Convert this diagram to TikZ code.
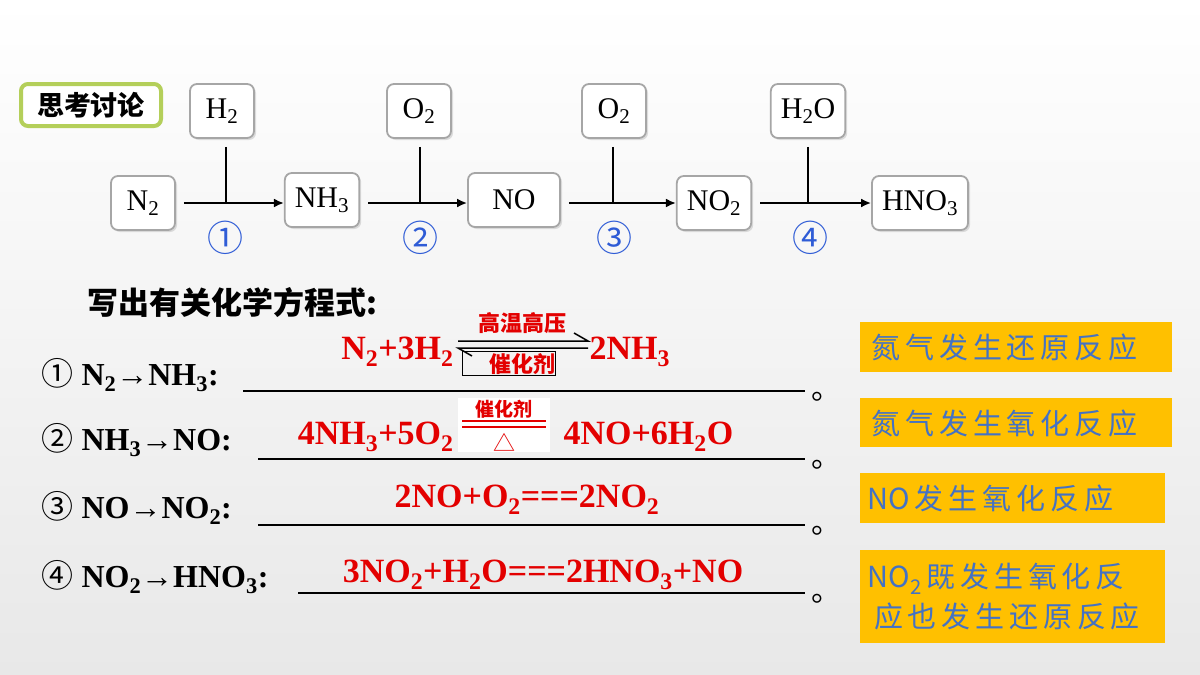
\documentclass[tikz,border=0pt]{standalone}
\usepackage{fontspec}
\setmainfont{Liberation Serif}
\newfontfamily\cjk{Noto Sans CJK SC}
\usetikzlibrary{arrows.meta,positioning,shadows}
\definecolor{boxgray}{HTML}{A6A6A6}
\definecolor{tagedge}{HTML}{B4CF5A}
\definecolor{eqred}{HTML}{E30000}
\definecolor{noteorange}{HTML}{FFC000}
\definecolor{noteblue}{HTML}{4472C4}
\definecolor{numblue}{HTML}{2F5CD6}
\newcommand{\chsub}[1]{\textsubscript{#1}}
\tikzset{
  chem/.style={draw=boxgray,line width=1.8pt,rounded corners=7pt,fill=white,
    minimum height=54pt,minimum width=64pt,inner xsep=10pt,font=\fontsize{30}{34}\selectfont,
    drop shadow={opacity=0.25,shadow xshift=2pt,shadow yshift=-2pt}},
  stepnum/.style={font=\fontsize{36}{38}\selectfont\cjk,text=numblue},
  rowlab/.style={anchor=west,font=\fontsize{32}{34}\selectfont\bfseries},
  eq/.style={font=\fontsize{34}{36}\selectfont\bfseries,text=eqred},
  cond/.style={font=\fontsize{22}{24}\selectfont\cjk\bfseries,text=eqred},
  notetext/.style={anchor=west,font=\fontsize{29}{40}\selectfont\cjk,text=noteblue},
  flow/.style={line width=2.4pt,-{Latex[length=10pt,width=9pt]}},
}
\begin{document}
\begin{tikzpicture}[x=1pt,y=-1pt]
\shade[top color=white,bottom color=gray!18] (0,0) rectangle (1200,675);
\useasboundingbox (0,0) rectangle (1200,675);
% tag
\node[draw=tagedge,line width=4pt,rounded corners=7pt,fill=white,minimum width=140pt,minimum height=42pt,
  font=\fontsize{27}{29}\selectfont\cjk\bfseries] (tag) at (91,105) {思考讨论};
% flow chart
\node[chem] (n2) at (143,203) {N\chsub{2}};
\node[chem] (nh3) at (322,200) {NH\chsub{3}};
\node[chem,minimum width=92pt] (no) at (514,200) {NO};
\node[chem] (no2) at (714,203) {NO\chsub{2}};
\node[chem] (hno3) at (920,203) {HNO\chsub{3}};
\node[chem] (h2) at (222,111) {H\chsub{2}};
\node[chem] (o2a) at (419,111) {O\chsub{2}};
\node[chem] (o2b) at (614,111) {O\chsub{2}};
\node[chem] (h2o) at (808,111) {H\chsub{2}O};
\draw[flow] (n2.east) ++(8,0) coordinate (a1) -- (nh3.west |- a1);
\draw[flow] (nh3.east) ++(8,3) coordinate (a2) -- (no.west |- a2);
\draw[flow] (no.east) ++(8,3) coordinate (a3) -- (no2.west |- a3);
\draw[flow] (no2.east) ++(8,0) coordinate (a4) -- (hno3.west |- a4);
\draw[line width=2.4pt] (h2.south) ++(4,8) coordinate (v1) -- (v1 |- a1);
\draw[line width=2.4pt] (o2a.south) ++(1,8) coordinate (v2) -- (v2 |- a2);
\draw[line width=2.4pt] (o2b.south) ++(-1,8) coordinate (v3) -- (v3 |- a3);
\draw[line width=2.4pt] (h2o.south) ++(0,8) coordinate (v4) -- (v4 |- a4);
\node[stepnum] (s1) at (225,238) {①};
\node[stepnum] (s2) at (420,238) {②};
\node[stepnum] (s3) at (614,238) {③};
\node[stepnum] (s4) at (810,238) {④};
% equations
\node[anchor=west,font=\fontsize{31}{33}\selectfont\cjk\bfseries] (title) at (84,303) {写出有关化学方程式:};
\node[rowlab] (r1) at (38,375) {{\cjk\mdseries ①} N\chsub{2}→NH\chsub{3}:};
\node[rowlab] (r2) at (38,440) {{\cjk\mdseries ②} NH\chsub{3}→NO:};
\node[rowlab] (r3) at (38,508) {{\cjk\mdseries ③} NO→NO\chsub{2}:};
\node[rowlab] (r4) at (38,577) {{\cjk\mdseries ④} NO\chsub{2}→HNO\chsub{3}:};
\foreach \y/\x in {391/243,459/258,525/258,593/298}
  \draw[line width=2.4pt] (\x,\y) -- (805,\y) node[right=2pt,font=\fontsize{30}{32}\selectfont\cjk,yshift=-6pt] {。};
% row 1
\node[eq,anchor=east] (e1l) at (457,352) {N\chsub{2}+3H\chsub{2}};
\node[eq,anchor=west] (e1r) at (586,352) {2NH\chsub{3}};
\node[cond] (c1a) at (522,323) {高温高压};
\node[cond] (c1b) at (522,364) {催化剂};
\draw[line width=1.5pt] (458,341) -- (588,341) -- (574,333);
\draw[line width=1.5pt] (588,348) -- (458,348) -- (472,356);
\draw[line width=0.6pt] (462,351) rectangle (555,375);
% row 2
\node[eq,anchor=east] (e2l) at (457,437) {4NH\chsub{3}+5O\chsub{2}};
\node[fill=white,minimum width=92pt,minimum height=54pt] (c2) at (504,425) {};
\node[cond,font=\fontsize{19}{21}\selectfont\cjk\bfseries] (c2a) at (504,409) {催化剂};
\draw[eqred,line width=2pt] (462,421) -- (546,421) (462,427) -- (546,427);
\node[cond,font=\fontsize{22}{24}\selectfont\cjk] (c2b) at (504,442) {△};
\node[eq,anchor=west] (e2r) at (560,437) {4NO+6H\chsub{2}O};
% rows 3 and 4
\node[eq] (e3) at (527,500) {2NO+O\chsub{2}===2NO\chsub{2}};
\node[eq] (e4) at (543,575) {3NO\chsub{2}+H\chsub{2}O===2HNO\chsub{3}+NO};
% notes
\fill[noteorange] (860,322) rectangle (1172,372);
\node[notetext] (t1) at (868,347) {氮\,气\,发\,生\,还\,原\,反\,应};
\fill[noteorange] (860,398) rectangle (1172,447);
\node[notetext] (t2) at (868,423) {氮\,气\,发\,生\,氧\,化\,反\,应};
\fill[noteorange] (860,473) rectangle (1165,523);
\node[notetext] (t3) at (864,498) {NO\,发\,生\,氧\,化\,反\,应};
\fill[noteorange] (860,550) rectangle (1165,643);
\node[notetext,align=left] (t4) at (864,597) {NO\textsubscript{2}\,既\,发\,生\,氧\,化\,反\\\ 应\,也\,发\,生\,还\,原\,反\,应};
\end{tikzpicture}
\end{document}
